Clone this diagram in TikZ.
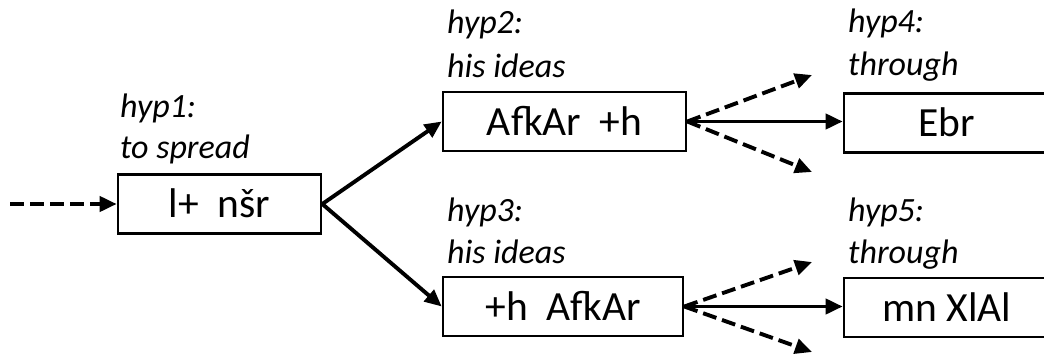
\documentclass[tikz,border=0pt]{standalone}
\usepackage{fontspec}
\setmainfont{Carlito}
\usetikzlibrary{arrows.meta}
\begin{document}
\begin{tikzpicture}[x=1pt,y=-1pt,
  wordbox/.style={draw, line width=2.6pt, minimum height=59pt, inner sep=0pt,
    font=\fontsize{41.5}{41.5}\selectfont, text height=27pt, text depth=0pt},
  hyplabel/.style={anchor=base west, inner sep=0pt,
    font=\fontsize{34}{34}\selectfont\itshape},
  link/.style={line width=3.9pt, -{Triangle[length=17pt,width=15pt]}},
  guess/.style={link, dash pattern=on 14pt off 6pt}]
\useasboundingbox (0,0) rectangle (1044,356);
\clip (0,0) rectangle (1044,356);

% word boxes
\node[wordbox, minimum width=203pt] (w1) at (219.5,204) {l+\ \ nšr};
\node[wordbox, minimum width=243pt] (w2) at (564.5,121.5) {AfkAr\ \ +h};
\node[wordbox, minimum width=240pt] (w3) at (563,306.5) {+h\ \ AfkAr};
\node[wordbox, minimum width=206pt] (w4) at (947,123) {Ebr};
\node[wordbox, minimum width=206pt] (w5) at (947,307.5) {mn XlAl};

% hypothesis labels
\node[hyplabel] (h1a) at (120,117) {hyp1:};
\node[hyplabel] (h1b) at (120,158) {to spread};
\node[hyplabel] (h2a) at (447,33) {hyp2:};
\node[hyplabel] (h2b) at (447,77) {his ideas};
\node[hyplabel] (h3a) at (447,221) {hyp3:};
\node[hyplabel] (h3b) at (447,263) {his ideas};
\node[hyplabel] (h4a) at (848,32) {hyp4:};
\node[hyplabel] (h4b) at (848,75) {through};
\node[hyplabel] (h5a) at (848,221) {hyp5:};
\node[hyplabel] (h5b) at (848,263) {through};

% loose ends of the dashed arrows
\coordinate (in) at (10,204);
\coordinate (a2u) at (812,75);
\coordinate (a2d) at (812,172);
\coordinate (a3u) at (812,262);
\coordinate (a3d) at (812,352);

% connectors
\draw[guess] (in) -- (w1.west);
\draw[link] (w1.east) -- (w2.west);
\draw[link] (w1.east) -- (w3.west);
\draw[link] (w2.east) -- (w4.west |- w2.east);
\draw[guess] (w2.east) -- (a2u);
\draw[guess] (w2.east) -- (a2d);
\draw[link] (w3.east) -- (w5.west |- w3.east);
\draw[guess] (w3.east) -- (a3u);
\draw[guess] (w3.east) -- (a3d);
\end{tikzpicture}
\end{document}
